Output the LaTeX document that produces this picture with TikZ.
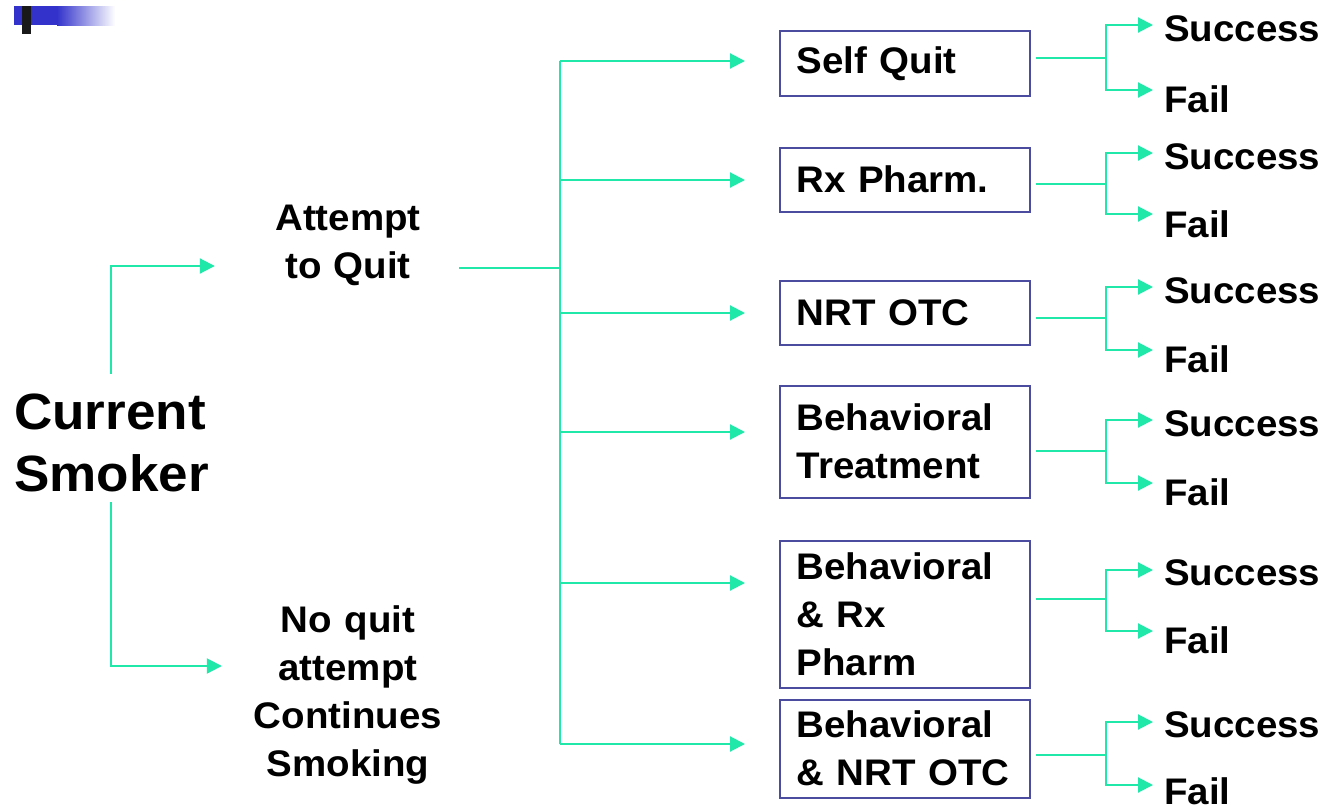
\documentclass[tikz,border=0pt]{standalone}
\usepackage{fontspec}
\setmainfont{Liberation Sans}[FakeStretch=1.04]
\usetikzlibrary{positioning, arrows.meta}

\definecolor{linkgreen}{HTML}{20E8A8}
\definecolor{boxblue}{HTML}{4B4BA0}
\definecolor{ornblue}{HTML}{3333CC}

\begin{document}
\begin{tikzpicture}[x=1pt, y=-1pt, >={Triangle[length=15pt, width=15pt]},
    every node/.style={font=\bfseries\fontsize{37}{48}\selectfont, inner sep=0pt},
    link/.style={draw=linkgreen, line width=2pt},
    arrow/.style={link, ->, linkgreen},
    choice/.style={draw=boxblue, line width=1.5pt, rectangle, anchor=north west, text width=216pt, inner xsep=17pt, align=left},
    outcome/.style={anchor=base west}]
            \useasboundingbox (0,0) rectangle (1328,809);

            % Corner mark
            \fill[ornblue] (14,6) rectangle (57,25);
            \shade[left color=ornblue, right color=white] (57,6) rectangle (115,25);
            \fill[black!90] (22,6) rectangle (31,34);

            % Start
            \node[anchor=west, align=left, font=\bfseries\fontsize{51}{62}\selectfont] (smoker) at (14,443) {Current\\Smoker};
            \node[text width=222pt, align=center] (attempt) at (348,245) {Attempt\\to Quit};
            \node[text width=222pt, align=center] (noquit) at (348,695) {No quit\\attempt\\Continues\\Smoking};

            % Quit methods
            \node[choice, minimum height=65pt] (selfquit) at (779,30) {Self Quit};
            \node[choice, minimum height=64pt] (rxpharm) at (779,147) {Rx Pharm.};
            \node[choice, minimum height=64pt] (nrtotc) at (779,280) {NRT OTC};
            \node[choice, minimum height=112pt] (behav) at (779,385) {Behavioral\\Treatment};
            \node[choice, minimum height=147pt] (behavrx) at (779,540) {Behavioral\\\& Rx\\Pharm};
            \node[choice, minimum height=98pt] (behavnrt) at (779,699) {Behavioral\\\& NRT OTC};

            % Outcomes
            \node[outcome] (succ1) at (1164,41) {Success};
            \node[outcome] (fail1) at (1164,112) {Fail};
            \node[outcome] (succ2) at (1164,169) {Success};
            \node[outcome] (fail2) at (1164,237) {Fail};
            \node[outcome] (succ3) at (1164,303) {Success};
            \node[outcome] (fail3) at (1164,372) {Fail};
            \node[outcome] (succ4) at (1164,436) {Success};
            \node[outcome] (fail4) at (1164,505) {Fail};
            \node[outcome] (succ5) at (1164,585) {Success};
            \node[outcome] (fail5) at (1164,653) {Fail};
            \node[outcome] (succ6) at (1164,737) {Success};
            \node[outcome] (fail6) at (1164,804) {Fail};

            % Start arrows
            \draw[arrow] ([yshift=20pt]smoker.north) |- ([xshift=-22pt, yshift=2pt]attempt.west |- 0,268);
            \draw[arrow] ([yshift=-10pt]smoker.south) |- ([xshift=-15pt, yshift=29pt]noquit.west);

            % Trunk
            \coordinate (hub) at (560,268);
            \draw[link] (attempt.east |- hub) -- (hub);
            \draw[link] (560,61) -- (560,744);
            \draw[arrow] (hub |- 0,61) -- ([xshift=-34pt]selfquit.west |- 0,61);
            \draw[arrow] (hub |- 0,180) -- ([xshift=-34pt]rxpharm.west |- 0,180);
            \draw[arrow] (hub |- 0,313) -- ([xshift=-34pt]nrtotc.west |- 0,313);
            \draw[arrow] (hub |- 0,432) -- ([xshift=-34pt]behav.west |- 0,432);
            \draw[arrow] (hub |- 0,583) -- ([xshift=-34pt]behavrx.west |- 0,583);
            \draw[arrow] (hub |- 0,744) -- ([xshift=-34pt]behavnrt.west |- 0,744);

            % Outcome forks
            \draw[link] ([xshift=5pt]selfquit.east |- 0,58) -- (1106,58);
            \draw[arrow] (1106,58) |- ([xshift=-11pt]succ1.west |- 0,25);
            \draw[arrow] (1106,58) |- ([xshift=-11pt]fail1.west |- 0,90);

            \draw[link] ([xshift=5pt]rxpharm.east |- 0,184) -- (1106,184);
            \draw[arrow] (1106,184) |- ([xshift=-11pt]succ2.west |- 0,153);
            \draw[arrow] (1106,184) |- ([xshift=-11pt]fail2.west |- 0,214);

            \draw[link] ([xshift=5pt]nrtotc.east |- 0,318) -- (1106,318);
            \draw[arrow] (1106,318) |- ([xshift=-11pt]succ3.west |- 0,287);
            \draw[arrow] (1106,318) |- ([xshift=-11pt]fail3.west |- 0,350);

            \draw[link] ([xshift=5pt]behav.east |- 0,451) -- (1106,451);
            \draw[arrow] (1106,451) |- ([xshift=-11pt]succ4.west |- 0,420);
            \draw[arrow] (1106,451) |- ([xshift=-11pt]fail4.west |- 0,483);

            \draw[link] ([xshift=5pt]behavrx.east |- 0,599) -- (1106,599);
            \draw[arrow] (1106,599) |- ([xshift=-11pt]succ5.west |- 0,570);
            \draw[arrow] (1106,599) |- ([xshift=-11pt]fail5.west |- 0,631);

            \draw[link] ([xshift=5pt]behavnrt.east |- 0,755) -- (1106,755);
            \draw[arrow] (1106,755) |- ([xshift=-11pt]succ6.west |- 0,722);
            \draw[arrow] (1106,755) |- ([xshift=-11pt]fail6.west |- 0,785);
        \end{tikzpicture}
\end{document}
